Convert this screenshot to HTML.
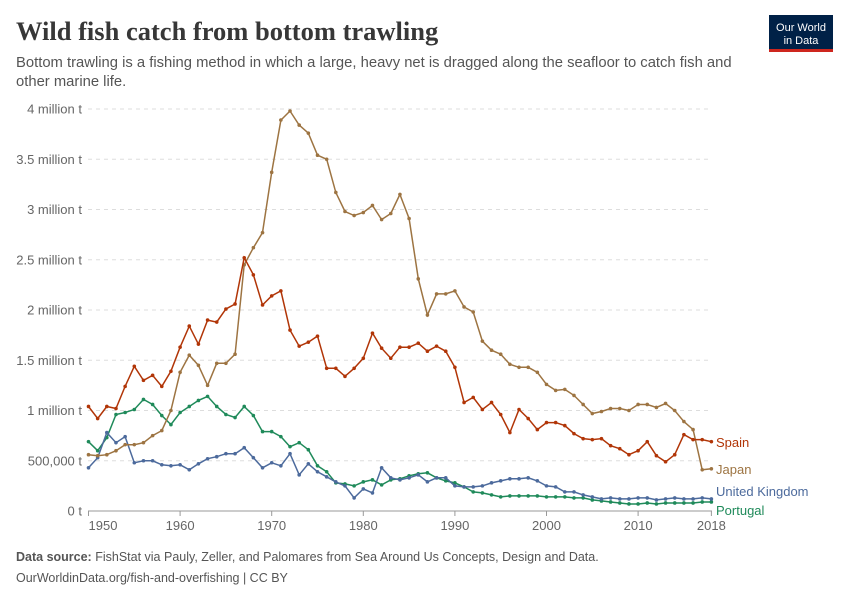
<!DOCTYPE html>
<html><head><meta charset="utf-8"><style>
body{margin:0;background:#fff;font-family:"Liberation Sans",sans-serif;}
svg text{font-family:"Liberation Sans",sans-serif;}
</style></head><body>
<svg id="c" width="850" height="600" xmlns="http://www.w3.org/2000/svg">
<rect width="850" height="600" fill="#fff"/>
<text x="16" y="40" font-size="26.5" font-weight="bold" fill="#373737" style="font-family:'Liberation Serif',serif">Wild fish catch from bottom trawling</text>
<text x="16" y="67" font-size="14.8" fill="#555">Bottom trawling is a fishing method in which a large, heavy net is dragged along the seafloor to catch fish and</text>
<text x="16" y="86" font-size="14.8" fill="#555">other marine life.</text>
<rect x="769" y="15" width="64" height="37" fill="#002147"/>
<rect x="769" y="49" width="64" height="3" fill="#ce261e"/>
<text x="801" y="31" font-size="11" fill="#fff" text-anchor="middle">Our World</text>
<text x="801" y="44" font-size="11" fill="#fff" text-anchor="middle">in Data</text>
<g id="grid"></g>
<g id="series"></g>
<text x="16" y="561" font-size="12.5" fill="#555"><tspan font-weight="bold">Data source:</tspan> FishStat via Pauly, Zeller, and Palomares from Sea Around Us Concepts, Design and Data.</text>
<text x="16" y="582" font-size="12.5" fill="#555">OurWorldinData.org/fish-and-overfishing | CC BY</text>
</svg>
<script>
const NS="http://www.w3.org/2000/svg";
function el(t,a,p,txt){const e=document.createElementNS(NS,t);for(const k in a)e.setAttribute(k,a[k]);if(txt!==undefined)e.textContent=txt;p.appendChild(e);return e;}
const X=y=>88.5+(y-1950)*9.16, Y=v=>511-v*100.5;
const g=document.getElementById('grid');
const labs=["0 t","500,000 t","1 million t","1.5 million t","2 million t","2.5 million t","3 million t","3.5 million t","4 million t"];
labs.forEach((l,i)=>{const y=Y(i*0.5);
 if(i>0)el('line',{x1:88,x2:712,y1:y,y2:y,stroke:'#ddd','stroke-dasharray':'4,4'},g);
 else el('line',{x1:88,x2:712,y1:y,y2:y,stroke:'#999'},g);
 el('text',{x:82,y:y+4.5,'font-size':13,fill:'#666','text-anchor':'end'},g,l);});
[[1950,'1950'],[1960,'1960'],[1970,'1970'],[1980,'1980'],[1990,'1990'],[2000,'2000'],[2010,'2010'],[2018,'2018']].forEach(([yr,l])=>{
 const x=X(yr);el('line',{x1:x,x2:x,y1:511,y2:516,stroke:'#999'},g);
 el('text',{x:x,y:530,'font-size':13,fill:'#666','text-anchor':yr==1950?'start':'middle'},g,l);});
const D={
japan:[.56,.55,.56,.6,.66,.66,.68,.75,.8,1.0,1.38,1.55,1.45,1.25,1.47,1.47,1.56,2.45,2.62,2.77,3.37,3.89,3.98,3.84,3.76,3.54,3.5,3.17,2.98,2.94,2.97,3.04,2.9,2.96,3.15,2.91,2.31,1.95,2.16,2.16,2.19,2.03,1.98,1.69,1.6,1.56,1.46,1.43,1.43,1.38,1.26,1.2,1.21,1.15,1.06,.97,.99,1.02,1.02,1.0,1.06,1.06,1.03,1.07,1.0,.89,.81,.41,.42],
spain:[1.04,.92,1.04,1.02,1.24,1.44,1.3,1.35,1.24,1.39,1.63,1.84,1.66,1.9,1.88,2.01,2.06,2.52,2.35,2.05,2.14,2.19,1.8,1.64,1.68,1.74,1.42,1.42,1.34,1.42,1.52,1.77,1.62,1.52,1.63,1.63,1.67,1.59,1.64,1.59,1.43,1.08,1.13,1.01,1.08,.96,.78,1.01,.92,.81,.88,.88,.85,.77,.72,.71,.72,.65,.62,.56,.6,.69,.55,.49,.56,.76,.71,.71,.69],
port:[.69,.6,.73,.96,.98,1.01,1.11,1.06,.95,.86,.98,1.04,1.1,1.14,1.04,.96,.93,1.04,.95,.79,.79,.74,.64,.68,.61,.45,.39,.28,.27,.25,.29,.31,.26,.31,.32,.35,.37,.38,.33,.3,.28,.24,.19,.18,.16,.14,.15,.15,.15,.15,.14,.14,.14,.13,.13,.11,.1,.09,.08,.07,.07,.08,.07,.08,.08,.08,.08,.09,.09],
uk:[.43,.53,.78,.68,.74,.48,.5,.5,.46,.45,.46,.41,.47,.52,.54,.57,.57,.63,.53,.43,.48,.45,.57,.36,.47,.39,.34,.29,.25,.13,.22,.18,.43,.33,.31,.33,.36,.29,.33,.33,.25,.24,.24,.25,.28,.3,.32,.32,.33,.3,.25,.24,.19,.19,.16,.14,.12,.13,.12,.12,.13,.13,.11,.12,.13,.12,.12,.13,.12]};
const C={japan:'#9d7442',spain:'#b13507',port:'#1f8a5a',uk:'#4c6a9c'};
const s=document.getElementById('series');
['port','uk','japan','spain'].forEach(k=>{
 const pts=D[k].map((v,i)=>X(1950+i).toFixed(1)+','+Y(v).toFixed(1)).join(' ');
 el('polyline',{points:pts,fill:'none',stroke:C[k],'stroke-width':1.5},s);
 D[k].forEach((v,i)=>el('circle',{cx:X(1950+i),cy:Y(v),r:1.8,fill:C[k]},s));});
[['Spain',447,'spain'],['Japan',474,'japan'],['United Kingdom',496,'uk'],['Portugal',515,'port']].forEach(([t,y,k])=>
 el('text',{x:716,y:y,'font-size':13,fill:C[k]},s,t));
</script>
</body></html>
